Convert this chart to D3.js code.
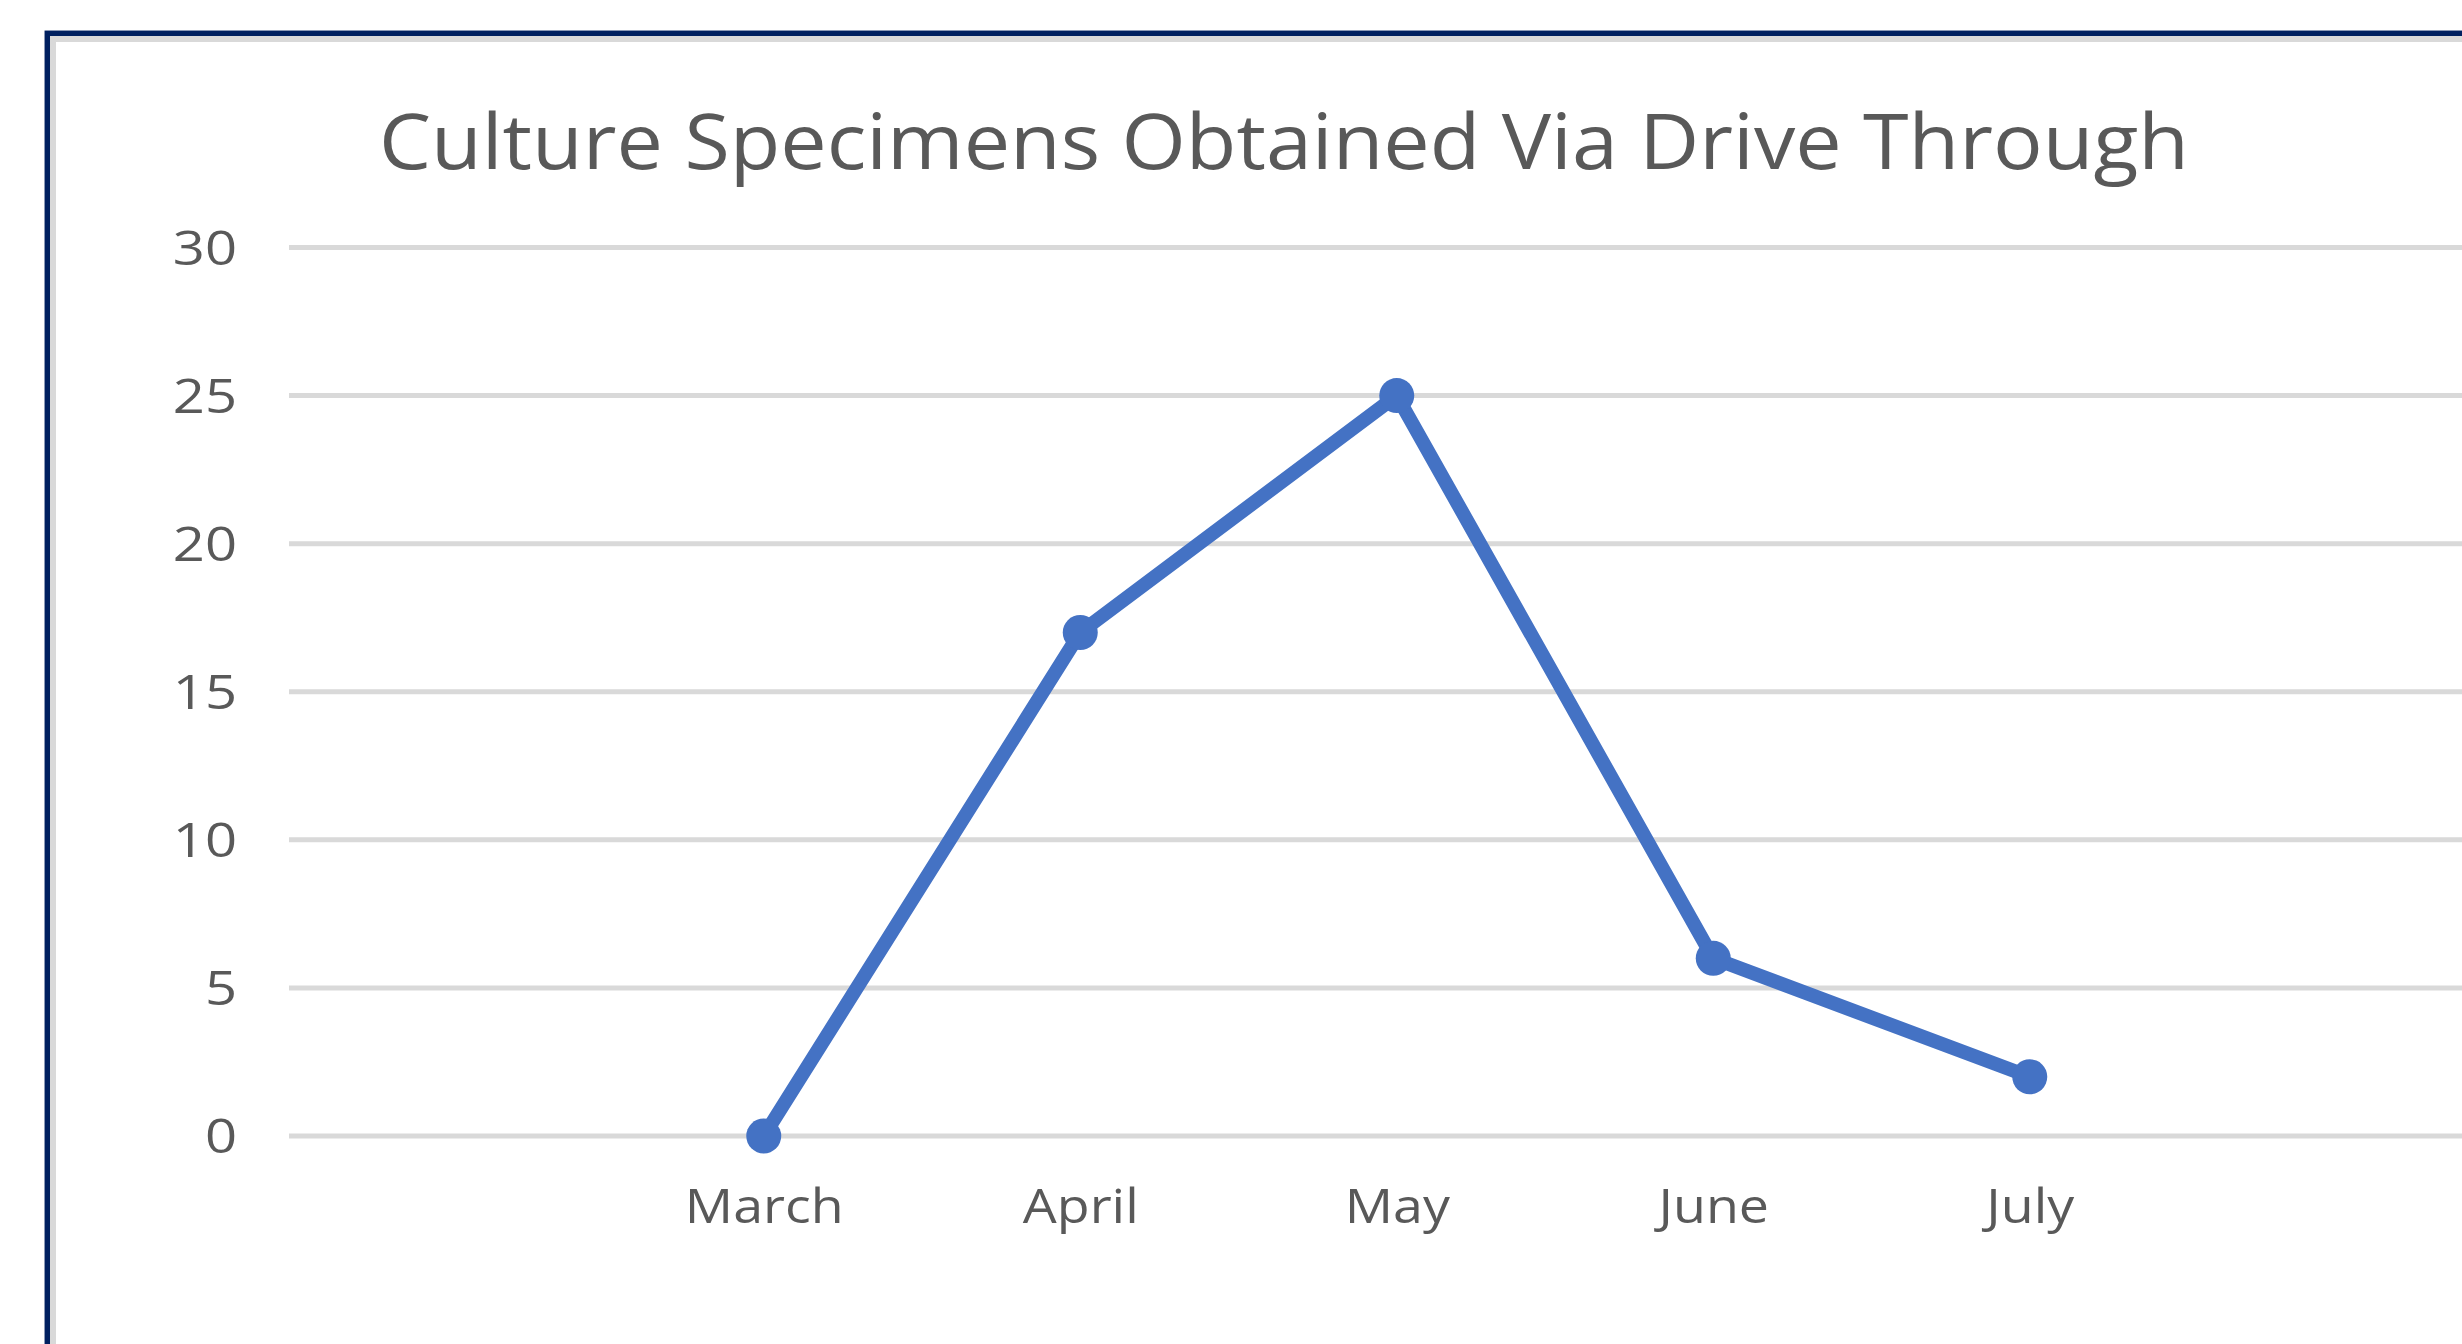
<!DOCTYPE html>
<html>
<head>
<meta charset="utf-8">
<script src="https://cdn.jsdelivr.net/npm/d3@7"></script>
<style>
  html, body { margin: 0; padding: 0; background: #ffffff; overflow: hidden; }
  svg { display: block; }
</style>
</head>
<body>
<svg id="chart" width="2462" height="1344"></svg>
<script>
// Monthly culture specimen counts collected at the drive-through site
const months = ["March", "April", "May", "June", "July"];
const specimens = [0, 17, 25, 6, 2];
const yTicks = [0, 5, 10, 15, 20, 25, 30];
const chartTitle = "Culture Specimens Obtained Via Drive Through";

const W = 2462, H = 1344;
const svg = d3.select("#chart");

// Frame: navy outer border with a light grey inner rule
svg.append("rect")
  .attr("x", 47.3).attr("y", 33.3)
  .attr("width", W).attr("height", H)
  .attr("fill", "none").attr("stroke", "#002060").attr("stroke-width", 5.5);
svg.append("rect")
  .attr("x", 53).attr("y", 39)
  .attr("width", W).attr("height", H)
  .attr("fill", "none").attr("stroke", "#d9d9d9").attr("stroke-width", 6);

// Plot area: seven category slots, first and last left empty
const plotLeft = 289, slot = 316.5;
const plotRight = plotLeft + 7 * slot;
const yTop = 247.5, yBottom = 1136;

const x = d3.scalePoint()
  .domain(months)
  .range([plotLeft + 1.5 * slot, plotLeft + 5.5 * slot]);
const y = d3.scaleLinear().domain([0, 30]).range([yBottom, yTop]);

const font = "'Open Sans', 'Noto Sans', sans-serif";
const textColor = "#595959";

// Horizontal gridlines
svg.append("g")
  .selectAll("line")
  .data(yTicks)
  .join("line")
  .attr("x1", plotLeft).attr("x2", plotRight)
  .attr("y1", d => y(d)).attr("y2", d => y(d))
  .attr("stroke", "#d9d9d9").attr("stroke-width", 5);

// Value axis labels
const yAxis = d3.axisLeft(y).tickValues(yTicks).tickSize(0).tickPadding(0);
const yAxisG = svg.append("g")
  .attr("transform", `translate(${plotLeft - 52},0)`)
  .call(yAxis);
yAxisG.select(".domain").remove();
yAxisG.selectAll("text")
  .attr("fill", textColor)
  .style("font-family", font)
  .style("font-size", "48px")
  .attr("dy", "0.35em")
  .attr("transform", "scale(1.17,1)");

// Category axis labels
const xAxis = d3.axisBottom(x).tickSize(0).tickPadding(0);
const xAxisG = svg.append("g")
  .attr("transform", `translate(0,${yBottom})`)
  .call(xAxis);
xAxisG.select(".domain").remove();
xAxisG.selectAll("text")
  .attr("fill", textColor)
  .style("font-family", font)
  .style("font-size", "48px")
  .attr("y", 87)
  .attr("dy", "0")
  .attr("transform", "scale(1.12,1)");

// Title
svg.append("text")
  .attr("x", 1284).attr("y", 169)
  .attr("text-anchor", "middle")
  .attr("fill", textColor)
  .attr("textLength", 1810)
  .attr("lengthAdjust", "spacingAndGlyphs")
  .style("font-family", font)
  .style("font-size", "76px")
  .text(chartTitle);

// Series line and markers
const points = months.map((m, i) => ({ m, v: specimens[i] }));
const line = d3.line().x(d => x(d.m)).y(d => y(d.v));

svg.append("path")
  .datum(points)
  .attr("d", line)
  .attr("fill", "none")
  .attr("stroke", "#4472c4")
  .attr("stroke-width", 14)
  .attr("stroke-linejoin", "round");

svg.append("g")
  .selectAll("circle")
  .data(points)
  .join("circle")
  .attr("cx", d => x(d.m))
  .attr("cy", d => y(d.v))
  .attr("r", 17.5)
  .attr("fill", "#4472c4");
</script>
</body>
</html>
